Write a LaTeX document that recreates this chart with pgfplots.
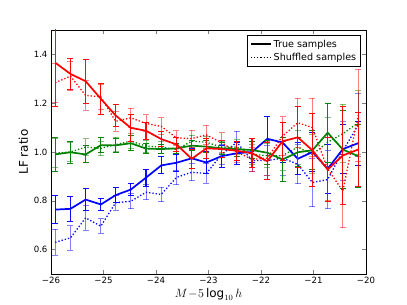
\documentclass[border=0pt]{standalone}
\usepackage{pgfplots}
\pgfplotsset{compat=1.18}
\usepackage{fontspec}
\setmainfont{DejaVu Sans}
\definecolor{mr}{rgb}{1,0,0}
\definecolor{mg}{rgb}{0,0.5,0}
\definecolor{mb}{rgb}{0,0,1}
\pgfplotsset{
  shuf/.style={color=#1, line width=1.3pt, dotted, mark=none,
    error bars/error bar style={solid, draw=#1, color=#1, line width=1pt, opacity=0.5},
    error bars/error mark options={rotate=90, mark size=3pt, solid, draw=#1, color=#1, line width=1pt, opacity=0.5}},
  tru/.style={color=#1, line width=1.7pt, mark=none,
    error bars/error bar style={solid, draw=#1, color=#1, line width=1.2pt, opacity=0.95},
    error bars/error mark options={rotate=90, mark size=3pt, solid, draw=#1, color=#1, line width=1pt, opacity=0.95}},
}
\begin{document}
\begin{tikzpicture}
\useasboundingbox (-51pt,-31pt) rectangle (356pt,274pt);
\begin{axis}[
  at={(0pt,0pt)}, anchor=south west,
  scale only axis, width=315pt, height=244pt,
  xmin=-26, xmax=-20, ymin=0.5, ymax=1.5,
  xtick={-26,-25,-24,-23,-22,-21,-20},
  xticklabels={−26,−25,−24,−23,−22,−21,−20},
  ytick={0.6,0.8,1.0,1.2,1.4},
  yticklabel style={/pgf/number format/fixed,/pgf/number format/precision=1,/pgf/number format/fixed zerofill,/pgf/number format/assume math mode=true},
  tick label style={font=\fontsize{8.6}{10}\selectfont},
  tick align=inside, xtick pos=both, ytick pos=both,
  major tick length=4pt,
  axis line style={line width=0.8pt},
  xlabel={$M\!-\!5\log_{10}h$},
  ylabel={LF ratio},
  label style={font=\fontsize{12}{14}\selectfont},
  xlabel style={yshift=3pt},
  ylabel style={yshift=-1pt},
  legend style={at={(0.984,0.979)}, anchor=north east, font=\fontsize{9.6}{11.5}\selectfont, draw=black, line width=0.6pt, cells={anchor=west}, inner sep=2.5pt, row sep=0pt},
  legend image code/.code={\draw[#1] (0cm,0cm) -- (0.7cm,0cm);},
  legend cell align=left,
  error bars/y dir=both, error bars/y explicit,
]
\addlegendimage{black, line width=1.7pt}
\addlegendentry{True samples}
\addlegendimage{black, line width=1.2pt, dotted}
\addlegendentry{Shuffled samples}

% ---- shuffled (dotted)
\addplot[shuf=mb] table[x=x, y=y, y error=e] {
x y e
-25.92 0.630 0.053
-25.63 0.648 0.050
-25.34 0.730 0.050
-25.05 0.696 0.030
-24.77 0.792 0.030
-24.48 0.798 0.030
-24.19 0.835 0.030
-23.90 0.826 0.030
-23.61 0.896 0.030
-23.32 0.917 0.035
-23.04 0.912 0.040
-22.75 0.990 0.040
-22.46 1.040 0.045
-22.17 0.965 0.045
-21.88 0.965 0.060
-21.59 0.975 0.070
-21.30 0.950 0.080
-21.02 0.875 0.100
-20.73 0.887 0.120
-20.44 1.005 0.120
-20.15 1.110 0.130
};
\addplot[shuf=mg] table[x=x, y=y, y error=e] {
x y e
-25.92 0.995 0.060
-25.63 1.000 0.040
-25.34 1.020 0.035
-25.05 1.015 0.030
-24.77 1.030 0.030
-24.48 1.045 0.030
-24.19 1.024 0.025
-23.90 1.020 0.025
-23.61 1.010 0.020
-23.32 1.044 0.025
-23.04 1.040 0.025
-22.75 1.020 0.025
-22.46 1.020 0.030
-22.17 0.990 0.040
-21.88 0.985 0.050
-21.59 0.985 0.060
-21.30 1.020 0.070
-21.02 0.990 0.080
-20.73 1.040 0.100
-20.44 1.075 0.120
-20.15 1.120 0.130
};
\addplot[shuf=mr] table[x=x, y=y, y error=e] {
x y e
-25.92 1.284 0.080
-25.63 1.311 0.060
-25.34 1.232 0.060
-25.05 1.226 0.050
-24.77 1.126 0.040
-24.48 1.140 0.040
-24.19 1.117 0.035
-23.90 1.105 0.035
-23.61 1.058 0.030
-23.32 1.055 0.035
-23.04 1.070 0.040
-22.75 1.038 0.040
-22.46 1.000 0.045
-22.17 0.970 0.050
-21.88 0.975 0.070
-21.59 1.065 0.080
-21.30 1.120 0.100
-21.02 1.100 0.120
-20.73 0.930 0.130
-20.44 0.840 0.150
-20.15 1.150 0.190
};

% ---- true (solid)
\addplot[tru=mb] table[x=x, y=y, y error=e] {
x y e
-25.92 0.764 0.056
-25.63 0.767 0.050
-25.34 0.805 0.045
-25.05 0.785 0.025
-24.77 0.823 0.030
-24.48 0.846 0.025
-24.19 0.895 0.035
-23.90 0.945 0.035
-23.61 0.956 0.035
-23.32 0.974 0.040
-23.04 0.957 0.045
-22.75 0.983 0.045
-22.46 0.995 0.045
-22.17 1.000 0.045
-21.88 1.054 0.090
-21.59 1.039 0.080
-21.30 0.972 0.065
-21.02 1.000 0.080
-20.73 0.931 0.100
-20.44 1.012 0.100
-20.15 1.036 0.090
};
\addplot[tru=mg] table[x=x, y=y, y error=e] {
x y e
-25.92 0.990 0.070
-25.63 0.999 0.045
-25.34 0.990 0.035
-25.05 1.028 0.030
-24.77 1.027 0.030
-24.48 1.036 0.030
-24.19 1.014 0.020
-23.90 1.012 0.020
-23.61 1.015 0.020
-23.32 1.026 0.020
-23.04 1.022 0.025
-22.75 1.015 0.025
-22.46 1.012 0.030
-22.17 1.008 0.035
-21.88 0.997 0.050
-21.59 0.969 0.090
-21.30 0.999 0.060
-21.02 1.007 0.080
-20.73 1.079 0.120
-20.44 1.010 0.160
-20.15 0.983 0.130
};
\addplot[tru=mr] table[x=x, y=y, y error=e] {
x y e
-25.92 1.366 0.180
-25.63 1.320 0.065
-25.34 1.290 0.090
-25.05 1.218 0.063
-24.77 1.150 0.045
-24.48 1.099 0.055
-24.19 1.087 0.035
-23.90 1.053 0.030
-23.61 1.031 0.030
-23.32 0.972 0.040
-23.04 1.015 0.040
-22.75 1.012 0.035
-22.46 1.005 0.040
-22.17 0.995 0.060
-21.88 0.962 0.075
-21.59 1.044 0.077
-21.30 1.060 0.125
-21.02 1.007 0.150
-20.73 0.928 0.130
-20.44 0.986 0.200
-20.15 1.010 0.150
};
\end{axis}
\end{tikzpicture}
\end{document}
